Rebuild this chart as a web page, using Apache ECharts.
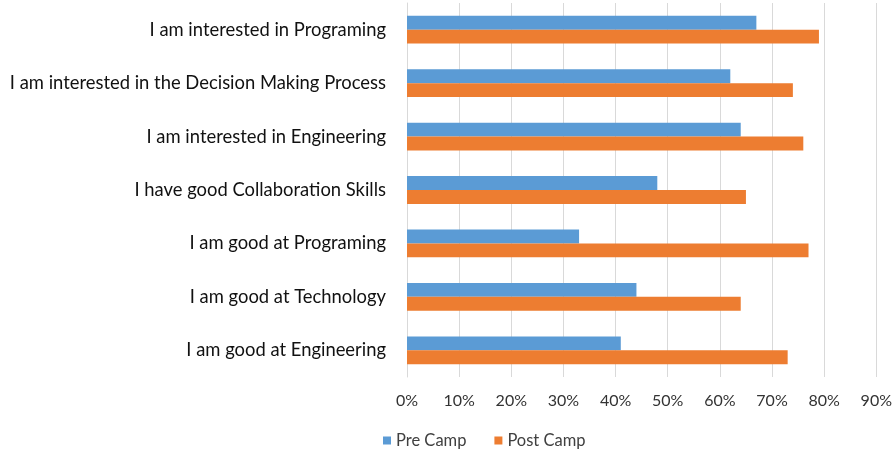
<!DOCTYPE html>
<html>
<head>
<meta charset="utf-8">
<script src="https://cdn.jsdelivr.net/npm/echarts@6/dist/echarts.min.js"></script>
<style>
  html, body { margin: 0; padding: 0; background: #fff; }
  #myChart { width: 895px; height: 449px; }
</style>
</head>
<body>
<div id="myChart"></div>
<script>
var categories = [
  'I am interested in Programing',
  'I am interested in the Decision Making Process',
  'I am interested in Engineering',
  'I have good Collaboration Skills',
  'I am good at Programing',
  'I am good at Technology',
  'I am good at Engineering'
];
var preCamp = [67, 62, 64, 48, 33, 44, 41];
var postCamp = [79, 74, 76, 65, 77, 64, 73];
var axisTicks = [0, 10, 20, 30, 40, 50, 60, 70, 80, 90];

var FONT = 'Lato';
var myChart = echarts.init(document.getElementById('myChart'));

var option = {
  animation: false,
  textStyle: { fontFamily: FONT },
  color: ['#5B9BD5', '#ED7D31'],
  grid: { left: 407, right: 18, top: 3, bottom: 72, containLabel: false },
  legend: {
    left: 378, top: 427,
    itemWidth: 8, itemHeight: 8, itemGap: 28,
    icon: 'rect',
    textStyle: { fontFamily: FONT, fontSize: 16.5, color: '#404040' },
    data: ['Pre Camp', 'Post Camp']
  },
  xAxis: {
    type: 'value',
    min: axisTicks[0], max: axisTicks[axisTicks.length - 1], interval: 10,
    axisLine: { show: false },
    axisTick: { show: false },
    splitLine: { lineStyle: { color: '#d9d9d9' } },
    axisLabel: { formatter: '{value}%', fontSize: 16, color: '#333333', margin: 16, fontFamily: FONT }
  },
  yAxis: {
    type: 'category',
    inverse: true,
    data: categories,
    axisLine: { lineStyle: { color: '#d9d9d9' } },
    axisTick: { show: false },
    axisLabel: { fontSize: 18.4, color: '#111111', margin: 21, fontFamily: FONT }
  },
  series: [
    { name: 'Pre Camp', type: 'bar', data: preCamp, barGap: '0%', barCategoryGap: '48%' },
    { name: 'Post Camp', type: 'bar', data: postCamp, barGap: '0%', barCategoryGap: '48%' }
  ]
};

myChart.setOption(option);
</script>
</body>
</html>
